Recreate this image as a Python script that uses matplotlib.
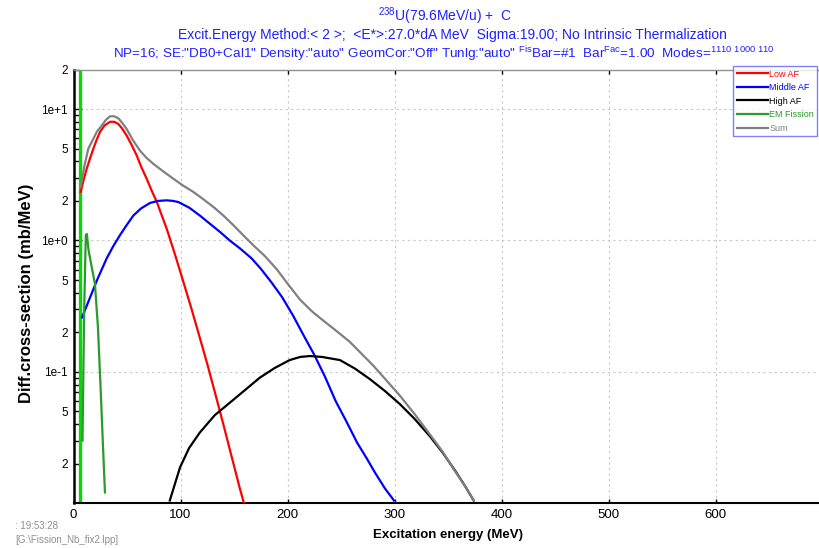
import matplotlib
matplotlib.use("Agg")
import matplotlib.pyplot as plt
from matplotlib.ticker import FixedLocator, FixedFormatter, NullFormatter

plt.rcParams['font.family'] = ['Liberation Sans', 'DejaVu Sans']
plt.rcParams['mathtext.fontset'] = 'custom'
plt.rcParams['mathtext.rm'] = 'Liberation Sans'
plt.rcParams['mathtext.it'] = 'Liberation Sans:italic'
plt.rcParams['mathtext.bf'] = 'Liberation Sans:bold'

# ---------------- data ----------------
low_E = [6.7, 9.5, 12.3, 15.4, 18.5, 21.5, 24.8, 29, 34.1, 38, 41.9, 45.5, 49.7,
         54, 59.1, 63.5, 68.4, 73, 77.8, 82.5, 87.1, 94.9, 102, 110, 117, 125,
         132, 140, 145, 150, 155, 159]
low_v = [2.34, 2.9, 3.51, 4.2, 4.98, 5.8, 6.7, 7.5, 8.0, 8.0, 7.7, 7.1, 6.28,
         5.4, 4.43, 3.6, 2.95, 2.4, 1.97, 1.55, 1.23, 0.78, 0.505, 0.307, 0.195,
         0.115, 0.0706, 0.040, 0.0278, 0.0193, 0.0134, 0.0102]

mid_E = [8, 15, 22, 31, 37, 43.5, 50, 56, 63, 71.5, 79, 87, 93, 98, 108, 118,
         127, 137, 146, 155.6, 166.5, 175, 185, 195, 205, 215, 225, 235, 245,
         255, 265, 274, 282, 291, 299.5]
mid_v = [0.26, 0.36, 0.5, 0.73, 0.9, 1.1, 1.32, 1.55, 1.75, 1.93, 2.0, 2.02,
         2.0, 1.96, 1.78, 1.55, 1.35, 1.16, 1.0, 0.87, 0.73, 0.61, 0.48, 0.37,
         0.27, 0.19, 0.135, 0.092, 0.06, 0.042, 0.029, 0.022, 0.017, 0.013, 0.0105]

high_E = [90, 99.5, 108, 118, 132, 146, 160, 174, 188, 202, 212, 221, 232, 249,
          263, 277, 291, 305, 319, 333, 345, 356.5, 366, 374]
high_v = [0.0105, 0.0187, 0.0263, 0.0345, 0.0468, 0.0582, 0.0724, 0.0902,
          0.107, 0.123, 0.130, 0.132, 0.130, 0.123, 0.106, 0.0881, 0.0716,
          0.0569, 0.0437, 0.0324, 0.0243, 0.0178, 0.0135, 0.0105]

em_E = [8.4, 10.0, 11.5, 12.5, 14.0, 17.3, 20.0, 22.9, 25.7, 27.6, 29.4]
em_v = [0.03, 0.3, 1.1, 1.12, 0.85, 0.61, 0.47, 0.215, 0.064, 0.0266, 0.0121]

sum_E = [6.7, 10, 13.8, 18.5, 22, 26.3, 30, 34.1, 38, 41.9, 45.5, 49.7, 55,
         62.1, 68, 74.6, 84, 93.3, 102, 112, 121, 130.7, 140, 149.3, 158, 168,
         179, 190, 200, 211.7, 223, 235, 246, 258, 269, 280, 292, 305, 319,
         333, 345, 356, 366, 374]
sum_v = [2.55, 3.63, 4.98, 5.93, 6.76, 7.46, 8.22, 8.81, 8.81, 8.51, 7.85,
         7.05, 5.89, 4.83, 4.27, 3.83, 3.35, 2.95, 2.63, 2.34, 2.07, 1.80, 1.55,
         1.31, 1.11, 0.92, 0.759, 0.603, 0.47, 0.355, 0.288, 0.240, 0.204,
         0.170, 0.138, 0.112, 0.0870, 0.0660, 0.0475, 0.0335, 0.0247, 0.0178,
         0.0135, 0.0105]

em_line_E = 6.0  # vertical EM marker line

series_labels = ["Low AF", "Middle AF", "High AF", "EM Fission", "Sum"]
series_colors = ["#ff0000", "#0000ff", "#000000", "#2a9a2a", "#808080"]

x_ticks = [0, 100, 200, 300, 400, 500, 600]
y_major = [1e-1, 1e0, 1e1]
y_major_labels = ["1e-1", "1e+0", "1e+1"]
y_minor = [m * 10.0 ** d for d in (-2, -1, 0, 1) for m in range(2, 10)]
y_minor = [v for v in y_minor if v <= 20.0001]
y_minor_labels = []
for v in y_minor:
    lead = round(v / 10 ** int(f"{v:e}".split("e")[1]))
    y_minor_labels.append(str(lead) if lead in (2, 5) else "")

# ---------------- figure ----------------
W, H = 819, 548
x0, ytop, ybot = 73.5, 69.5, 503.3
fig = plt.figure(figsize=(W / 100, H / 100), dpi=100)
ax = fig.add_axes([x0 / W, 1 - ybot / H, 1 - x0 / W, (ybot - ytop) / H])
aw, ah = W - x0, ybot - ytop

ax.set_yscale("log")
ax.set_xlim(0, (W - x0) / 1.07)
ax.set_ylim(1e-2, 2e1)

ax.axvline(em_line_E, color="#00dd00", lw=2.4, zorder=2)

data = [(low_E, low_v), (mid_E, mid_v), (high_E, high_v), (em_E, em_v), (sum_E, sum_v)]
handles = []
for (xs, ys), lab, col in zip(data, series_labels, series_colors):
    h, = ax.plot(xs, ys, color=col, lw=1.6, label=lab, zorder=3,
                 solid_joinstyle="round")
    handles.append(h)

# ticks
ax.xaxis.set_major_locator(FixedLocator(x_ticks))
ax.set_xticklabels([str(t) for t in x_ticks])
ax.yaxis.set_major_locator(FixedLocator(y_major))
ax.yaxis.set_major_formatter(FixedFormatter(y_major_labels))
ax.yaxis.set_minor_locator(FixedLocator(y_minor))
ax.yaxis.set_minor_formatter(FixedFormatter(y_minor_labels))
ax.tick_params(axis="y", which="major", direction="in", length=6, width=1,
               labelsize=8.5, pad=4)
ax.tick_params(axis="y", which="minor", direction="in", length=4, width=1,
               labelsize=8.5, pad=4)
ax.tick_params(axis="x", which="major", direction="in", length=3, width=1,
               labelsize=9.5, top=True, pad=4)
ax.xaxis.set_minor_formatter(NullFormatter())

ax.grid(True, which="major", axis="both", color="#c8c8c8", ls=(0, (2, 3)), lw=0.8)
ax.set_axisbelow(True)

ax.spines["right"].set_visible(False)
ax.spines["top"].set_color("#909090")
ax.spines["top"].set_linewidth(1.0)
ax.spines["left"].set_linewidth(1.8)
ax.spines["bottom"].set_linewidth(1.5)

ax.set_xlabel("Excitation energy (MeV)", fontsize=9.5, fontweight="bold")
ax.xaxis.set_label_coords((448 - x0) / aw, (ybot - 529) / ah)
ax.set_ylabel("Diff.cross-section (mb/MeV)", fontsize=12, fontweight="bold")
ax.yaxis.set_label_coords((34 - x0) / aw, (ybot - 293.5) / ah)

leg = fig.legend(handles=handles, loc="upper left",
                 bbox_to_anchor=(733 / W, 1 - 66 / H), fontsize=6.5,
                 frameon=True, fancybox=False, handlelength=3.5,
                 handletextpad=0.1, borderpad=0.4, labelspacing=0.5,
                 borderaxespad=0)
leg.get_frame().set_edgecolor("#6060ff")
leg.get_frame().set_linewidth(1.0)
for txt, col in zip(leg.get_texts(), series_colors):
    txt.set_color(col)

# titles
tcol = "#2020ff"
fig.text(445 / W, 1 - 16 / H, r"$^{238}$U(79.6MeV/u) +  C", ha="center", va="center",
         color=tcol, fontsize=10)
fig.text(452 / W, 1 - 35 / H,
         "Excit.Energy Method:< 2 >;  <E*>:27.0*dA MeV  Sigma:19.00; No Intrinsic Thermalization",
         ha="center", va="center", color=tcol, fontsize=10)
fig.text(444 / W, 1 - 54 / H,
         'NP=16; SE:"DB0+Cal1" Density:"auto" GeomCor:"Off" Tunlg:"auto" '
         r'$^{\mathrm{Fis}}$Bar=#1  Bar$^{\mathrm{Fac}}$=1.00  Modes=$^{1110\ 1000\ 110}$',
         ha="center", va="center", color=tcol, fontsize=9.7)

fig.text(15 / W, 1 - 526 / H, ": 19:53:28", ha="left", va="center",
         color="#909090", fontsize=7)
fig.text(15 / W, 1 - 540 / H, r"[G:\Fission_Nb_fix2.lpp]", ha="left", va="center",
         color="#909090", fontsize=7)

fig.savefig("out.png", dpi=100)
